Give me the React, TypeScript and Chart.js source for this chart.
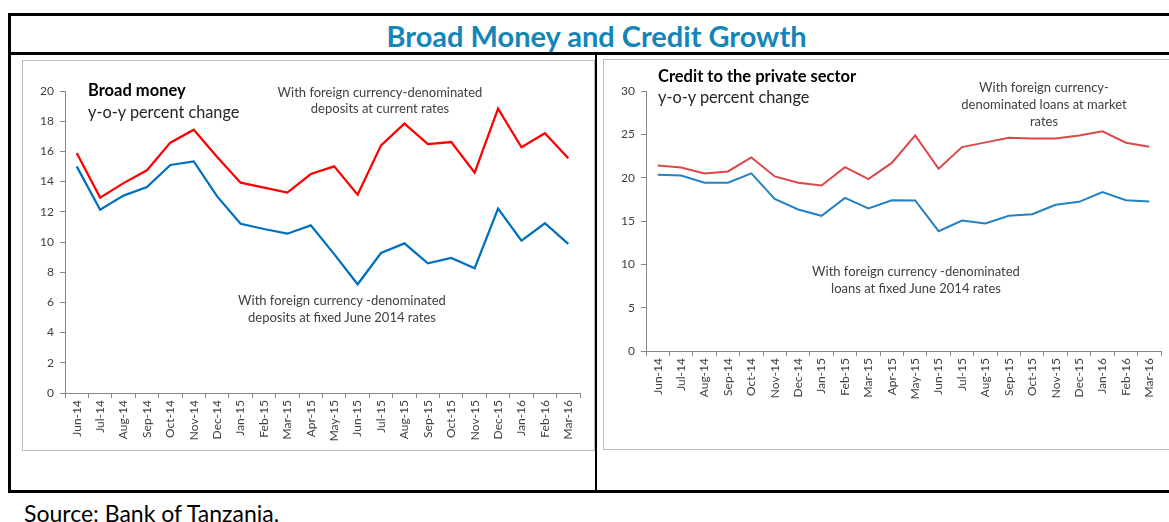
import React, { useEffect, useRef } from 'react';
import { Chart, registerables } from 'chart.js';

Chart.register(...registerables);

const months = ['Jun-14', 'Jul-14', 'Aug-14', 'Sep-14', 'Oct-14', 'Nov-14', 'Dec-14', 'Jan-15', 'Feb-15', 'Mar-15', 'Apr-15', 'May-15', 'Jun-15', 'Jul-15', 'Aug-15', 'Sep-15', 'Oct-15', 'Nov-15', 'Dec-15', 'Jan-16', 'Feb-16', 'Mar-16'];

const broadMoneyCurrent = [15.9, 12.94, 13.9, 14.75, 16.58, 17.44, 15.63, 13.93, 13.6, 13.27, 14.5, 15.01, 13.13, 16.4, 17.84, 16.49, 16.62, 14.59, 18.83, 16.27, 17.2, 15.54];
const broadMoneyFixed = [15.01, 12.14, 13.07, 13.64, 15.1, 15.34, 13.02, 11.21, 10.86, 10.55, 11.1, 9.2, 7.2, 9.27, 9.91, 8.59, 8.94, 8.26, 12.21, 10.09, 11.24, 9.87];

const creditMarket = [21.41, 21.18, 20.49, 20.72, 22.33, 20.14, 19.41, 19.1, 21.22, 19.83, 21.7, 24.87, 21.02, 23.53, 24.07, 24.6, 24.53, 24.53, 24.87, 25.34, 24.03, 23.57];
const creditFixed = [20.33, 20.25, 19.41, 19.41, 20.49, 17.56, 16.33, 15.6, 17.67, 16.44, 17.4, 17.37, 13.82, 15.06, 14.71, 15.6, 15.79, 16.87, 17.21, 18.33, 17.4, 17.25];

const FONT = 'Lato, "Open Sans", "Noto Sans", sans-serif';

type Series = { data: number[]; color: string; width: number };

type PanelProps = {
  left: number;
  top: number;
  width: number;
  height: number;
  series: Series[];
  yMax: number;
  yStep: number;
  yAxisWidth: number;
  xAxisHeight: number;
  padding: { top: number; right: number; left: number; bottom: number };
};

function LinePanel(p: PanelProps) {
  const ref = useRef<HTMLCanvasElement | null>(null);
  useEffect(() => {
    if (!ref.current) return;
    const chart = new Chart(ref.current, {
      type: 'line',
      data: {
        labels: months,
        datasets: p.series.map((s) => ({
          data: s.data,
          borderColor: s.color,
          backgroundColor: s.color,
          borderWidth: s.width,
          pointRadius: 0,
          tension: 0,
          fill: false,
        })),
      },
      options: {
        responsive: false,
        maintainAspectRatio: false,
        animation: false,
        layout: { padding: p.padding },
        plugins: { legend: { display: false }, tooltip: { enabled: false } },
        scales: {
          x: {
            type: 'category',
            offset: true,
            grid: { display: true, drawOnChartArea: false, tickLength: 5, color: '#868686', offset: true },
            border: { color: '#868686', width: 1 },
            ticks: {
              minRotation: 90,
              maxRotation: 90,
              autoSkip: false,
              color: '#404040',
              padding: 2,
              font: { family: FONT, size: 12 },
            },
            afterFit: (s: any) => {
              s.height = p.xAxisHeight;
            },
          },
          y: {
            min: 0,
            max: p.yMax,
            grid: { display: true, drawOnChartArea: false, tickLength: 5, color: '#868686' },
            border: { color: '#868686', width: 1 },
            ticks: {
              stepSize: p.yStep,
              color: '#404040',
              padding: 6,
              font: { family: FONT, size: 12 },
            },
            afterFit: (s: any) => {
              s.width = p.yAxisWidth;
            },
          },
        },
      },
    });
    return () => chart.destroy();
  }, []);
  return (
    <canvas
      ref={ref}
      width={p.width}
      height={p.height}
      style={{ position: 'absolute', left: p.left, top: p.top, width: p.width, height: p.height }}
    />
  );
}

const abs = (s: React.CSSProperties): React.CSSProperties => ({ position: 'absolute', ...s });

function Note({ cx, top, lh, size, children }: { cx: number; top: number; lh: number; size: number; children: React.ReactNode }) {
  return (
    <div
      style={abs({
        left: cx - 160,
        top,
        width: 320,
        textAlign: 'center',
        fontFamily: FONT,
        fontSize: size,
        lineHeight: lh + 'px',
        color: '#404040',
        whiteSpace: 'nowrap',
      })}
    >
      {children}
    </div>
  );
}

export default function App() {
  return (
    <div
      style={{
        position: 'fixed',
        left: 0,
        top: 0,
        width: 1169,
        height: 522,
        overflow: 'hidden',
        background: '#ffffff',
        fontFamily: FONT,
      }}
    >
      {/* frame lines */}
      <div style={abs({ left: 8, top: 13, width: 1200, height: 2.5, background: '#000' })} />
      <div style={abs({ left: 8, top: 13, width: 2.5, height: 480, background: '#000' })} />
      <div style={abs({ left: 8, top: 52, width: 1200, height: 2.5, background: '#000' })} />
      <div style={abs({ left: 595, top: 53, width: 2, height: 439, background: '#000' })} />
      <div style={abs({ left: 8, top: 490, width: 1200, height: 2.5, background: '#000' })} />

      {/* title */}
      <div
        style={abs({
          left: 9,
          top: 20,
          width: 1175,
          textAlign: 'center',
          fontFamily: FONT,
          fontWeight: 'bold',
          fontSize: 29,
          lineHeight: '32px',
          color: '#1385b7',
        })}
      >
        Broad Money and Credit Growth
      </div>

      {/* chart boxes */}
      <div style={abs({ left: 22, top: 60, width: 571, height: 389, border: '1px solid #bcbcbc' })} />
      <div style={abs({ left: 603, top: 59, width: 600, height: 389, border: '1px solid #bcbcbc' })} />

      <LinePanel
        left={22}
        top={60}
        width={572}
        height={390}
        series={[
          { data: broadMoneyCurrent, color: '#ff0000', width: 2.25 },
          { data: broadMoneyFixed, color: '#0070c0', width: 2.25 },
        ]}
        yMax={20}
        yStep={2}
        yAxisWidth={43}
        xAxisHeight={57}
        padding={{ top: 31, right: 14, left: 0, bottom: 0 }}
      />
      <LinePanel
        left={603}
        top={59}
        width={566}
        height={390}
        series={[
          { data: creditMarket, color: '#dc4848', width: 2 },
          { data: creditFixed, color: '#2381c4', width: 2 },
        ]}
        yMax={30}
        yStep={5}
        yAxisWidth={43}
        xAxisHeight={98}
        padding={{ top: 32, right: 8, left: 0, bottom: 0 }}
      />

      {/* left annotations */}
      <div style={abs({ left: 88, top: 80, fontWeight: 'bold', fontSize: 16.5, lineHeight: '20px', color: '#000' })}>Broad money</div>
      <div style={abs({ left: 88, top: 102, fontSize: 16.3, lineHeight: '20px', color: '#262626' })}>y-o-y percent change</div>
      <Note cx={380} top={84} lh={16} size={13}>
        With foreign currency-denominated
        <br />
        deposits at current rates
      </Note>
      <Note cx={342} top={292} lh={17} size={13}>
        With foreign currency -denominated
        <br />
        deposits at fixed June 2014 rates
      </Note>

      {/* right annotations */}
      <div style={abs({ left: 658, top: 66, fontWeight: 'bold', fontSize: 16.5, lineHeight: '20px', color: '#000' })}>
        Credit to the private sector
      </div>
      <div style={abs({ left: 658, top: 87, fontSize: 16.3, lineHeight: '20px', color: '#262626' })}>y-o-y percent change</div>
      <Note cx={1044} top={79} lh={17} size={13}>
        With foreign currency-
        <br />
        denominated loans at market
        <br />
        rates
      </Note>
      <Note cx={916} top={263} lh={17} size={13}>
        With foreign currency -denominated
        <br />
        loans at fixed June 2014 rates
      </Note>

      {/* source */}
      <div style={abs({ left: 24, top: 500, fontSize: 23, lineHeight: '26px', color: '#000' })}>Source: Bank of Tanzania.</div>
    </div>
  );
}
